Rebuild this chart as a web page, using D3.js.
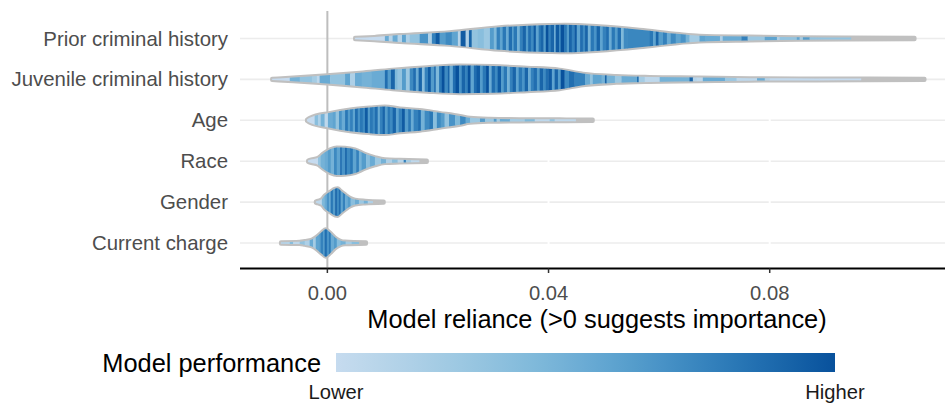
<!DOCTYPE html>
<html>
<head>
<meta charset="utf-8">
<script src="https://cdn.jsdelivr.net/npm/d3@7"></script>
<style>
  html, body { margin: 0; padding: 0; background: #ffffff; }
  svg { display: block; font-family: "Liberation Sans", Arial, sans-serif; }
</style>
</head>
<body>
<svg id="chart" width="945" height="403"></svg>
<script>
// ---------------- DATA ----------------
const features = ["Prior criminal history", "Juvenile criminal history", "Age", "Race", "Gender", "Current charge"];
const xTicks = [0, 0.04, 0.08];
const xTickLabels = ["0.00", "0.04", "0.08"];
const xTitle = "Model reliance (>0 suggests importance)";
const legendTitle = "Model performance";
const legendLabels = ["Lower", "Higher"];

// violin outlines: [model reliance, relative density]
const priorDensity = [[0.0050,0.05],[0.0085,0.12],[0.0131,0.25],[0.0221,0.46],[0.0311,0.82],[0.0402,0.98],[0.0430,1.0],[0.0492,0.89],[0.0565,0.64],[0.0637,0.32],[0.0673,0.21],[0.0764,0.14],[0.0854,0.09],[0.0945,0.07],[0.1062,0.05]];
const juvenileDensity = [[-0.0100,0.05],[-0.0062,0.14],[-0.0001,0.30],[0.0059,0.49],[0.0118,0.71],[0.0180,0.89],[0.0240,1.0],[0.0299,0.97],[0.0361,0.85],[0.0420,0.71],[0.0462,0.42],[0.0523,0.25],[0.0583,0.18],[0.0673,0.14],[0.0764,0.09],[0.0885,0.07],[0.0981,0.06],[0.1080,0.05]];
const ageDensity = [[-0.0037,0.05],[-0.0032,0.18],[0.0005,0.54],[0.0041,0.79],[0.0077,0.93],[0.0104,1.0],[0.0131,0.86],[0.0167,0.75],[0.0203,0.54],[0.0240,0.32],[0.0258,0.18],[0.0294,0.11],[0.0348,0.08],[0.0420,0.07],[0.0480,0.05]];
const raceDensity = [[-0.0035,0.05],[-0.0032,0.10],[-0.0017,0.25],[-0.0008,0.54],[0.0005,0.86],[0.0017,1.0],[0.0032,0.98],[0.0050,0.86],[0.0068,0.54],[0.0086,0.30],[0.0104,0.14],[0.0131,0.10],[0.0180,0.05]];
const genderDensity = [[-0.0021,0.05],[-0.0017,0.10],[-0.0010,0.21],[-0.0005,0.46],[0.0005,0.75],[0.0014,0.97],[0.0019,1.0],[0.0023,0.86],[0.0032,0.57],[0.0041,0.32],[0.0050,0.18],[0.0068,0.10],[0.0102,0.05]];
const currentDensity = [[-0.0084,0.05],[-0.0050,0.08],[-0.0041,0.14],[-0.0028,0.25],[-0.0017,0.54],[-0.0010,0.79],[-0.0003,1.0],[0.0005,0.75],[0.0014,0.39],[0.0023,0.18],[0.0032,0.10],[0.0070,0.05]];

// individual models: [model reliance, model performance (0 = lower, 1 = higher)]
const priorModels = [[0.0050,0.0],[0.0104,0.5],[0.0111,0.1],[0.0118,0.5],[0.0127,0.1],[0.0135,0.55],[0.0142,0.15],[0.0149,0.3],[0.0167,0.65],[0.0182,0.15],[0.0189,0.75],[0.0196,0.95],[0.0203,0.6],[0.0214,0.7],[0.0225,0.55],[0.0236,0.1],[0.0241,0.95],[0.0250,0.15],[0.0256,0.9],[0.0261,0.3],[0.0272,0.35],[0.0283,0.25],[0.0294,0.6],[0.0301,0.4],[0.0306,0.75],[0.0312,0.55],[0.0317,0.8],[0.0323,0.5],[0.0328,0.85],[0.0334,0.6],[0.0337,0.8],[0.0343,0.45],[0.0348,0.75],[0.0353,0.9],[0.0359,0.6],[0.0363,0.85],[0.0368,0.7],[0.0373,0.95],[0.0377,0.55],[0.0382,0.8],[0.0386,0.9],[0.0391,0.6],[0.0395,1.0],[0.0400,0.75],[0.0404,0.9],[0.0410,0.5],[0.0413,0.95],[0.0419,0.7],[0.0422,1.0],[0.0428,0.8],[0.0433,0.6],[0.0437,0.9],[0.0442,0.75],[0.0447,0.95],[0.0451,0.55],[0.0457,0.85],[0.0462,0.7],[0.0466,0.9],[0.0471,0.45],[0.0476,0.8],[0.0482,0.65],[0.0487,0.9],[0.0493,0.55],[0.0498,0.75],[0.0504,0.85],[0.0509,0.5],[0.0514,0.8],[0.0520,0.6],[0.0525,0.85],[0.0531,0.4],[0.0536,0.7],[0.0543,0.72],[0.0583,0.8],[0.0589,0.55],[0.0594,0.9],[0.0599,0.6],[0.0607,0.75],[0.0614,0.5],[0.0621,0.7],[0.0630,0.55],[0.0639,0.65],[0.0648,0.45],[0.0655,0.2],[0.0673,0.55],[0.0683,0.5],[0.0710,0.15],[0.0715,0.5],[0.0749,0.75],[0.0760,0.25],[0.0791,0.55],[0.0813,0.15],[0.0818,0.3],[0.0849,0.55],[0.0854,0.2],[0.0860,0.6],[0.0872,0.3],[0.0945,0.3]];
const juvenileModels = [[-0.0100,0.0],[-0.0068,0.45],[-0.0050,0.3],[-0.0028,0.2],[-0.0019,0.05],[-0.0014,0.5],[0.0005,0.3],[0.0032,0.55],[0.0041,0.15],[0.0050,0.5],[0.0062,0.45],[0.0080,0.5],[0.0104,0.85],[0.0109,0.6],[0.0115,0.9],[0.0122,0.4],[0.0127,0.3],[0.0135,0.6],[0.0142,0.25],[0.0149,0.7],[0.0155,0.85],[0.0160,0.5],[0.0165,0.9],[0.0171,0.35],[0.0176,0.75],[0.0182,0.95],[0.0187,0.6],[0.0193,0.85],[0.0196,0.4],[0.0202,0.8],[0.0207,1.0],[0.0212,0.7],[0.0218,0.9],[0.0221,0.5],[0.0227,0.85],[0.0232,1.0],[0.0238,0.65],[0.0243,0.9],[0.0249,0.75],[0.0254,1.0],[0.0259,0.55],[0.0265,0.85],[0.0270,0.95],[0.0276,0.6],[0.0281,0.8],[0.0287,1.0],[0.0292,0.5],[0.0297,0.85],[0.0303,0.7],[0.0308,0.95],[0.0314,0.6],[0.0319,0.8],[0.0325,0.45],[0.0330,0.75],[0.0335,0.9],[0.0341,0.55],[0.0346,0.8],[0.0352,0.65],[0.0357,0.9],[0.0363,0.5],[0.0368,0.75],[0.0373,0.85],[0.0379,0.6],[0.0384,0.9],[0.0390,0.7],[0.0395,0.85],[0.0400,0.95],[0.0406,0.55],[0.0411,0.9],[0.0417,0.6],[0.0422,1.0],[0.0429,0.7],[0.0437,0.85],[0.0447,0.75],[0.0466,0.5],[0.0475,0.3],[0.0480,0.55],[0.0496,0.45],[0.0502,0.9],[0.0505,0.45],[0.0520,0.25],[0.0532,0.5],[0.0560,0.85],[0.0563,0.2],[0.0574,0.05],[0.0601,0.45],[0.0655,0.9],[0.0661,0.1],[0.0668,0.05],[0.0679,0.5],[0.0719,0.25],[0.0740,0.05],[0.0777,0.5],[0.0791,0.1],[0.0800,0.02],[0.0890,0.0],[0.0963,0.0]];
const ageModels = [[-0.0037,0.0],[-0.0023,0.35],[-0.0017,0.15],[-0.0012,0.45],[-0.0005,0.05],[0.0001,0.5],[0.0010,0.55],[0.0015,0.3],[0.0021,0.65],[0.0026,0.5],[0.0032,0.8],[0.0037,0.6],[0.0041,0.75],[0.0046,0.55],[0.0050,0.85],[0.0055,0.65],[0.0059,0.8],[0.0064,0.7],[0.0068,0.95],[0.0073,0.6],[0.0077,0.8],[0.0082,0.7],[0.0086,0.85],[0.0091,0.5],[0.0095,0.75],[0.0100,0.9],[0.0104,0.6],[0.0109,0.8],[0.0113,0.7],[0.0118,0.9],[0.0124,0.55],[0.0129,0.75],[0.0135,0.95],[0.0140,0.6],[0.0146,0.8],[0.0151,0.5],[0.0156,0.75],[0.0164,0.85],[0.0169,0.45],[0.0176,0.7],[0.0184,0.8],[0.0191,0.35],[0.0198,0.7],[0.0205,0.6],[0.0212,0.3],[0.0220,0.65],[0.0231,0.4],[0.0240,0.7],[0.0250,0.5],[0.0258,0.25],[0.0276,0.6],[0.0285,0.25],[0.0301,0.6],[0.0306,0.2],[0.0312,0.5],[0.0330,0.2],[0.0357,0.4],[0.0375,0.05],[0.0402,0.3],[0.0411,0.05],[0.0447,0.05]];
const raceModels = [[-0.0035,0.0],[-0.0017,0.3],[-0.0012,0.45],[-0.0005,0.5],[0.0001,0.6],[0.0006,0.45],[0.0012,0.7],[0.0017,0.55],[0.0023,0.85],[0.0026,0.65],[0.0032,0.9],[0.0035,0.7],[0.0041,0.8],[0.0046,0.55],[0.0052,0.75],[0.0057,0.45],[0.0062,0.6],[0.0070,0.35],[0.0077,0.5],[0.0086,0.25],[0.0097,0.45],[0.0106,0.15],[0.0117,0.35],[0.0127,0.1],[0.0138,0.75],[0.0142,0.2],[0.0151,0.05],[0.0164,0.05]];
const genderModels = [[-0.0021,0.05],[-0.0010,0.4],[-0.0005,0.5],[-0.0001,0.65],[0.0003,0.5],[0.0006,0.8],[0.0010,0.6],[0.0014,0.9],[0.0017,0.7],[0.0021,0.85],[0.0024,0.55],[0.0028,0.75],[0.0032,0.5],[0.0037,0.6],[0.0042,0.35],[0.0050,0.5],[0.0057,0.25],[0.0066,0.45],[0.0073,0.15],[0.0080,0.15]];
const currentModels = [[-0.0084,0.1],[-0.0068,0.35],[-0.0062,0.05],[-0.0050,0.3],[-0.0041,0.15],[-0.0032,0.5],[-0.0026,0.2],[-0.0021,0.55],[-0.0015,0.6],[-0.0012,0.75],[-0.0008,0.6],[-0.0005,0.85],[-0.0001,0.65],[0.0003,0.8],[0.0006,0.5],[0.0012,0.6],[0.0017,0.35],[0.0024,0.45],[0.0033,0.2],[0.0044,0.35],[0.0055,0.35]];

const densities = [priorDensity, juvenileDensity, ageDensity, raceDensity, genderDensity, currentDensity];
const models = [priorModels, juvenileModels, ageModels, raceModels, genderModels, currentModels];

// ---------------- CHART ----------------
const svg = d3.select("#chart");
const x = d3.scaleLinear().domain([-0.0158, 0.1117]).range([240, 945]);
const y = d3.scalePoint().domain(features).range([14, 267.5]).padding(0.6);
const halfW = d3.scaleLinear().domain([0, 1]).range([0, 13.8]);
const blues = ["#c6dbef", "#9ecae1", "#6baed6", "#3182bd", "#08519c"];
const color = d3.scaleSequential(d3.interpolateRgbBasis(blues)).domain([0, 1]);

const panelTop = 14, panelBottom = 267.5;

// gridlines
svg.append("g").selectAll("line").data(features).join("line")
  .attr("x1", 240).attr("x2", 945)
  .attr("y1", d => y(d)).attr("y2", d => y(d))
  .attr("stroke", "#ececec").attr("stroke-width", 1.6);
svg.append("g").selectAll("line").data(xTicks.filter(t => t !== 0)).join("line")
  .attr("x1", d => x(d)).attr("x2", d => x(d))
  .attr("y1", panelTop).attr("y2", panelBottom)
  .attr("stroke", "#ffffff").attr("stroke-width", 2);

// zero reference line
svg.append("line")
  .attr("x1", x(0)).attr("x2", x(0))
  .attr("y1", panelTop - 3).attr("y2", panelBottom)
  .attr("stroke", "#bebebe").attr("stroke-width", 2);

const defs = svg.append("defs");

features.forEach((f, i) => {
  const cy = y(f);
  const area = d3.area()
    .x(d => x(d[0]))
    .y0(d => cy - halfW(d[1]))
    .y1(d => cy + halfW(d[1]))
    .curve(d3.curveMonotoneX);
  const pathD = area(densities[i]);

  defs.append("clipPath").attr("id", "clip" + i)
    .append("path").attr("d", pathD);

  // outline
  svg.append("path")
    .attr("d", pathD)
    .attr("fill", "#ffffff")
    .attr("stroke", "#c0c0c0")
    .attr("stroke-width", 4)
    .attr("stroke-linejoin", "round");

  // model stripes
  const ms = models[i];
  svg.append("g").attr("clip-path", `url(#clip${i})`)
    .selectAll("rect").data(ms).join("rect")
    .attr("x", d => x(d[0]))
    .attr("width", (d, j) => {
      const next = j < ms.length - 1 ? x(ms[j + 1][0]) : x(d[0]) + 1;
      return Math.max(1, next - x(d[0])) + 0.35;
    })
    .attr("y", cy - 18).attr("height", 36)
    .attr("fill", d => color(d[1]));
});

// y labels
svg.append("g").selectAll("text").data(features).join("text")
  .attr("x", 228).attr("y", d => y(d))
  .attr("text-anchor", "end").attr("dominant-baseline", "central")
  .attr("font-size", 20.4).attr("fill", "#4d4d4d")
  .text(d => d);

// x axis
svg.append("line")
  .attr("x1", 240).attr("x2", 945)
  .attr("y1", 268.5).attr("y2", 268.5)
  .attr("stroke", "#000").attr("stroke-width", 2);
svg.append("g").selectAll("line").data(xTicks).join("line")
  .attr("x1", d => x(d)).attr("x2", d => x(d))
  .attr("y1", 268.5).attr("y2", 273)
  .attr("stroke", "#333").attr("stroke-width", 1.5);
svg.append("g").selectAll("text").data(xTicks).join("text")
  .attr("x", d => x(d)).attr("y", 293)
  .attr("text-anchor", "middle").attr("dominant-baseline", "central")
  .attr("font-size", 20.2).attr("fill", "#4d4d4d")
  .text((d, i) => xTickLabels[i]);
svg.append("text")
  .attr("x", 597).attr("y", 319)
  .attr("text-anchor", "middle").attr("dominant-baseline", "central")
  .attr("font-size", 25.4).attr("fill", "#000")
  .text(xTitle);

// legend
const grad = defs.append("linearGradient").attr("id", "perfGrad")
  .attr("x1", "0%").attr("x2", "100%").attr("y1", "0%").attr("y2", "0%");
d3.range(0, 1.0001, 0.05).forEach(t => {
  grad.append("stop").attr("offset", (t * 100) + "%").attr("stop-color", color(t));
});
const legX0 = 336, legX1 = 835;
svg.append("rect")
  .attr("x", legX0).attr("y", 353).attr("width", legX1 - legX0).attr("height", 19)
  .attr("fill", "url(#perfGrad)");
svg.append("text")
  .attr("x", 321).attr("y", 363)
  .attr("text-anchor", "end").attr("dominant-baseline", "central")
  .attr("font-size", 25.4).attr("fill", "#000")
  .text(legendTitle);
svg.append("g").selectAll("text").data(legendLabels).join("text")
  .attr("x", (d, i) => i === 0 ? legX0 : legX1).attr("y", 392)
  .attr("text-anchor", "middle").attr("dominant-baseline", "central")
  .attr("font-size", 20.2).attr("fill", "#1a1a1a")
  .text(d => d);
</script>
</body>
</html>
